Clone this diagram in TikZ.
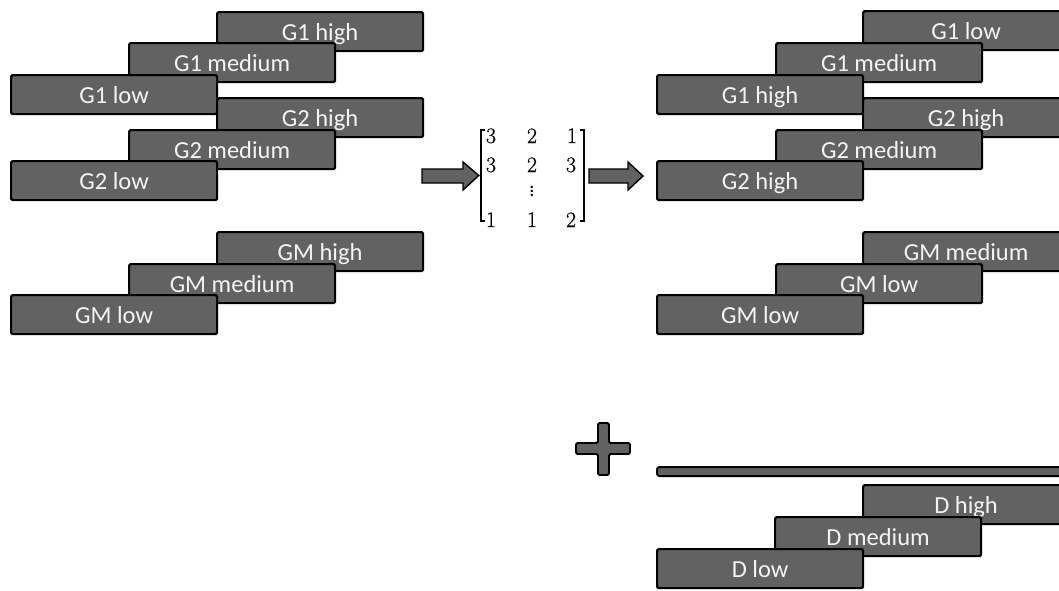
\documentclass[tikz,border=0pt]{standalone}
\usepackage{fontspec}
\setmainfont{Carlito}
\newfontfamily\digfont[FakeBold=0.6]{Latin Modern Roman}
\definecolor{boxfill}{RGB}{98,98,98}
\definecolor{boxtext}{RGB}{244,244,244}
\tikzset{
  bx/.style={draw=black, line width=2.2pt, fill=boxfill, rounded corners=1.5pt,
    minimum width=206pt, minimum height=39pt, inner sep=0pt, anchor=north west,
    text=boxtext, font=\fontsize{24.5}{28}\selectfont, text height=17pt, text depth=0pt},
  blockarrow/.style={draw=black, line width=1.4pt, fill=boxfill, line join=miter},
  digit/.style={inner sep=0pt, anchor=base, font=\digfont\fontsize{22}{26}\selectfont},
  brack/.style={draw=black, line width=1.8pt, line cap=butt},
}
\begin{document}
\begin{tikzpicture}[x=1pt, y=-1pt]
\useasboundingbox (0,0) rectangle (1059,590);
\clip (0,0) rectangle (1059,590);
% left groups
\node[bx] (l1h) at (216,11) {G1 high};
\node[bx] (l1m) at (128,42) {G1 medium};
\node[bx] (l1l) at (10,74) {G1 low};
\node[bx] (l2h) at (216,97) {G2 high};
\node[bx] (l2m) at (128,129) {G2 medium};
\node[bx] (l2l) at (10,160) {G2 low};
\node[bx] (lMh) at (216,231) {GM high};
\node[bx] (lMm) at (128,263) {GM medium};
\node[bx] (lMl) at (10,294) {GM low};
% right groups
\node[bx] (r1a) at (862,10) {G1 low};
\node[bx] (r1b) at (775,42) {G1 medium};
\node[bx] (r1c) at (656,74) {G1 high};
\node[bx] (r2a) at (862,97) {G2 high};
\node[bx] (r2b) at (775,129) {G2 medium};
\node[bx] (r2c) at (656,160) {G2 high};
\node[bx] (rMa) at (862,231) {GM medium};
\node[bx] (rMb) at (775,263) {GM low};
\node[bx] (rMc) at (656,294) {GM low};
% D group
\node[draw=black, line width=2pt, fill=boxfill, rounded corners=2.5pt, minimum width=420pt,
  minimum height=9pt, inner sep=0pt, anchor=north west] (bar) at (656,466) {};
\node[bx] (dh) at (862,484) {D high};
\node[bx] (dm) at (774,516) {D medium};
\node[bx] (dl) at (656,548) {D low};
% plus sign
\draw[draw=black, line width=1.8pt, fill=boxfill, rounded corners=1.5pt]
  (598,423) -- (609,423) -- (609,443) -- (630,443) -- (630,454) -- (609,454)
  -- (609,475) -- (598,475) -- (598,454) -- (576,454) -- (576,443) -- (598,443) -- cycle;
% matrix
\node[minimum width=107pt, minimum height=93pt, inner sep=0pt] (M) at (532.5,175.5) {};
\draw[brack] ([xshift=6pt,yshift=-0.9pt]M.north west) -- ([xshift=2pt,yshift=-0.9pt]M.north west)
  -- ([xshift=2pt,yshift=0.9pt]M.south west) -- ([xshift=6pt,yshift=0.9pt]M.south west);
\draw[brack] ([xshift=-6pt,yshift=-0.9pt]M.north east) -- ([xshift=-2pt,yshift=-0.9pt]M.north east)
  -- ([xshift=-2pt,yshift=0.9pt]M.south east) -- ([xshift=-6pt,yshift=0.9pt]M.south east);
\node[digit] (m11) at (491,143) {3};
\node[digit] (m12) at (532,143) {2};
\node[digit] (m13) at (572,143) {1};
\node[digit] (m21) at (491,172) {3};
\node[digit] (m22) at (532,172) {2};
\node[digit] (m23) at (571,172) {3};
\node[inner sep=0pt, font=\fontsize{20}{24}\selectfont] (m32) at (532,188) {$\vdots$};
\node[digit] (m41) at (491,227) {1};
\node[digit] (m42) at (532,227) {1};
\node[digit] (m43) at (571,227) {2};
% block arrows
\coordinate (a1t) at (422,169);
\coordinate (a1b) at (422,183);
\coordinate (a2t) at (589,169);
\coordinate (a2b) at (589,183);
\coordinate (a2e) at (643,176);
\draw[blockarrow] (a1t) -- (463,169) -- (463,162) -- (M.west) -- (463,190)
  -- (463,183) -- (a1b) -- cycle;
\draw[blockarrow] (a2t) -- (628,169) -- (628,162) -- (a2e) -- (628,190)
  -- (628,183) -- (a2b) -- cycle;
\end{tikzpicture}
\end{document}
